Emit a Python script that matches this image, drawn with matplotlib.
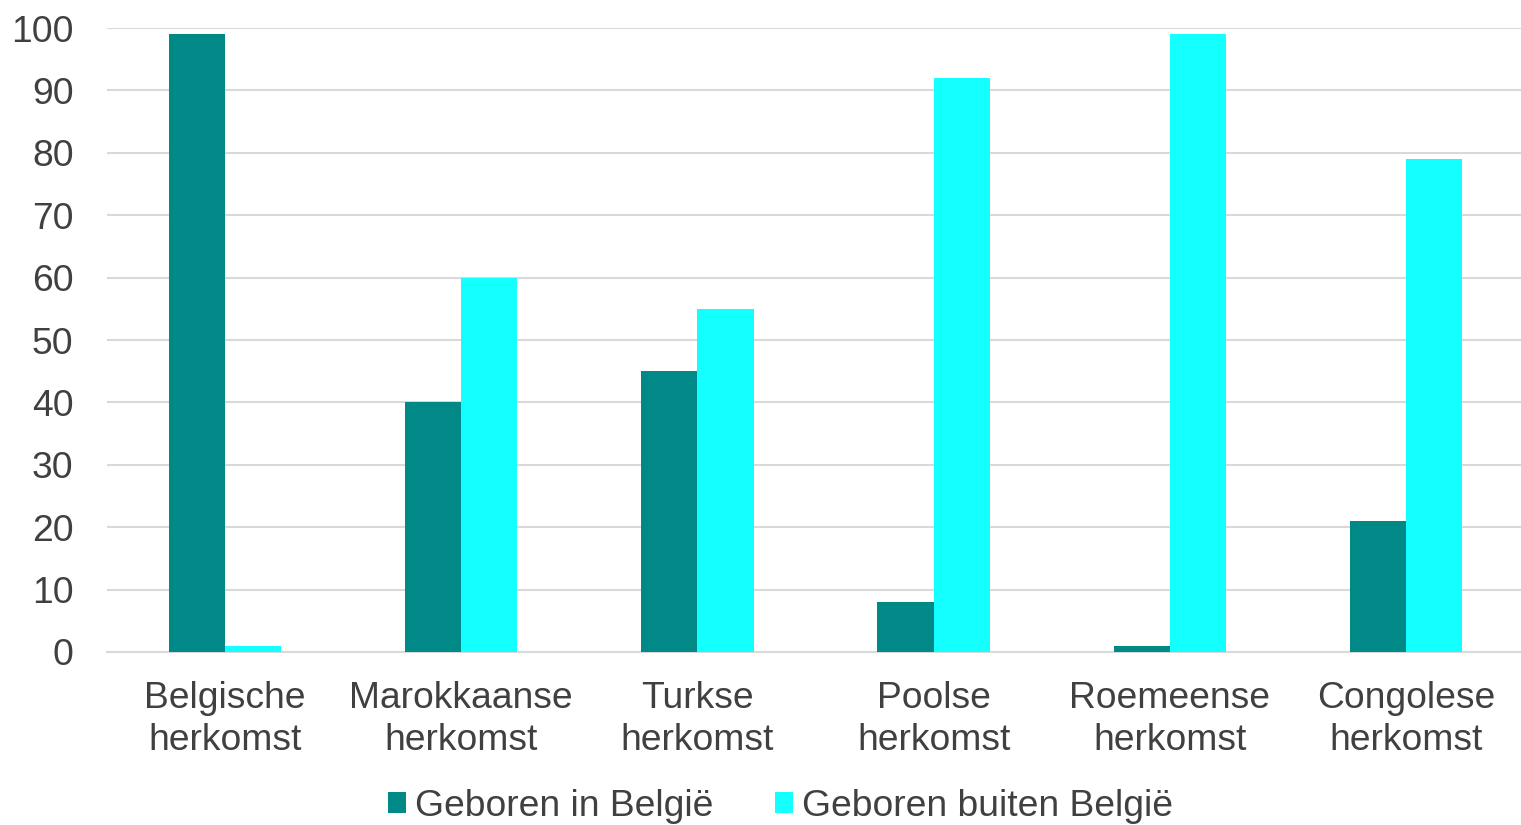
import matplotlib.pyplot as plt
import numpy as np

# Datos
categorias = ["Belgische\nherkomst", "Marokkaanse\nherkomst", "Turkse\nherkomst",
              "Poolse\nherkomst", "Roemeense\nherkomst", "Congolese\nherkomst"]
geboren_in = [99, 40, 45, 8, 1, 21]
geboren_buiten = [1, 60, 55, 92, 99, 79]
yticks = [0, 10, 20, 30, 40, 50, 60, 70, 80, 90, 100]

plt.rcParams['font.family'] = ['Liberation Sans', 'DejaVu Sans']
TEXTO = '#404040'
FS = 26.8

fig = plt.figure(figsize=(15.21, 8.25), dpi=100)
ax = fig.add_axes([0.0703, 0.2097, 0.9317, 0.7563])

x = np.arange(len(categorias))
w = 0.238
ax.bar(x - w / 2, geboren_in, width=w, color='#008986', label='Geboren in België', zorder=3)
ax.bar(x + w / 2, geboren_buiten, width=w, color='#14FFFF', label='Geboren buiten België', zorder=3)

ax.set_xlim(-0.5, len(categorias) - 0.5)
ax.set_ylim(0, 100)
ax.set_yticks(yticks)
ax.set_xticks(x)
ax.set_xticklabels(categorias, fontsize=FS, color=TEXTO, linespacing=1.25)
ax.tick_params(axis='y', labelsize=FS, labelcolor=TEXTO, length=0, pad=24)
ax.tick_params(axis='x', length=0, pad=21)
ax.grid(axis='y', color='#D9D9D9', linewidth=1.5, zorder=0)
for s in ['top', 'right', 'left']:
    ax.spines[s].set_visible(False)
ax.spines['bottom'].set_color('#D9D9D9')
ax.spines['bottom'].set_linewidth(1.5)

leg = fig.legend(loc='center', bbox_to_anchor=(0.513, 0.023), ncol=2, frameon=False,
                 fontsize=FS, handlelength=0.48, handleheight=0.48, handletextpad=0.25,
                 columnspacing=1.65)
for t in leg.get_texts():
    t.set_color(TEXTO)

fig.savefig('out.png', dpi=100)
